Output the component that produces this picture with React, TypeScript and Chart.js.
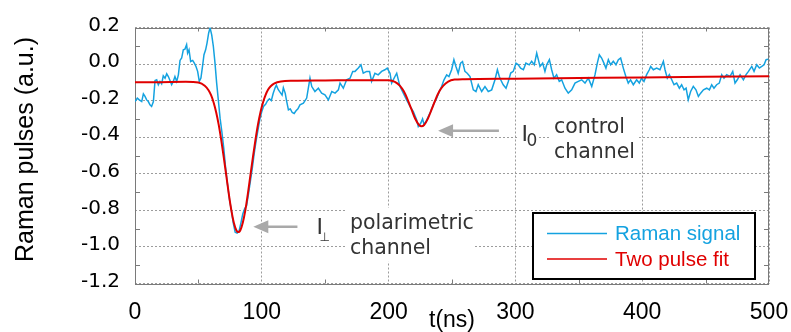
import React, { useEffect, useRef } from "react";
import { Chart, registerables } from "chart.js";

Chart.register(...registerables);

// ---- axes ----
const X_MIN = 0;
const X_MAX = 500;
const X_STEP = 100;
const X_MINOR = 50;
const Y_MIN = -1.2;
const Y_MAX = 0.2;
const Y_STEP = 0.2;
const Y_MINOR = 0.1;

const xTitle = "t(ns)";
const yTitle = "Raman pulses (a.u.)";
const seriesNames = ["Raman signal", "Two pulse fit"];

// ---- Raman signal ----
const signalT = [
  0, 1.8, 3.4, 5.3, 6.6, 7.9, 9.2, 10.5, 11.8, 13.1, 14.5, 15.8, 17.1, 18.4, 19.7, 21, 22.3, 23.7, 25, 26.3,
  27.6, 28.9, 30.2, 31.5, 32.9, 34.2, 35.5, 36.8, 38.1, 39.4, 40.7, 41.5, 42.6, 43.9, 45.5, 46.8, 48.1, 49.4,
  50.7, 52, 53.4, 54.4, 55.7, 56.8, 58.1, 59.2, 60.5, 61.8, 63.1, 64.4, 65.7, 67.1, 68.5, 70, 71.5, 73, 74.5,
  76, 77.5, 79, 80.5, 82, 83.5, 85, 86.5, 88, 89.5, 91, 92.5, 94, 95.5, 97, 98.5, 100, 101.5, 103, 104.5, 106,
  107.5, 109, 110.5, 111.5, 113, 114.5, 116, 117, 118.5, 119.5, 121, 122.5, 124, 125.5, 127, 128.5, 130.1,
  132.8, 135.4, 138, 139.4, 141.9, 144.6, 147.2, 149.8, 152.5, 155.2, 157.8, 160.4, 161.7, 164.3, 166.9,
  169.6, 171.7, 173.5, 176.1, 178.2, 180, 182.7, 185, 186.6, 189.2, 191.8, 194.5, 197.1, 198.9, 201.1, 202.4,
  205, 206.4, 209, 211.6, 214.2, 216.9, 219.5, 222.1, 223.4, 225.3, 226.8, 227.9, 229.5, 231.3, 233.2, 235.2,
  237.9, 240, 241.8, 243.7, 245.8, 247.6, 249.7, 251.5, 253.1, 254.9, 256.8, 258.3, 260.2, 262, 264.2, 266.8,
  268.9, 270.7, 273.4, 276, 278.6, 281.3, 283.9, 285.8, 287.3, 288.4, 290.4, 292.6, 294.4, 296.3, 298.3,
  300.5, 302.3, 304.1, 306.3, 308.3, 310.9, 312.8, 314.9, 316.8, 318.1, 319.4, 321.5, 323.3, 324.7, 326.8,
  328.6, 330.4, 332.5, 334.6, 336.5, 339.1, 341.7, 344.4, 347, 349.6, 352.3, 354.9, 357.5, 360.2, 362.8,
  364.6, 366.2, 368, 369.8, 371.4, 373.3, 375.1, 377.2, 379.3, 381.2, 383, 385.1, 387.1, 389, 390.8, 393,
  395.6, 397.7, 399.5, 401.4, 403.5, 405.6, 406.7, 408.8, 411.4, 414, 416.7, 418, 419.8, 421.4, 423.3, 425.1,
  427.2, 429.3, 431.1, 433, 434.6, 436.3, 438.2, 440.3, 442.4, 444.3, 446.1, 448.3, 450.9, 453, 454.8, 456.6,
  458.7, 460.8, 462.7, 464.5, 466.6, 469.2, 471.4, 473.2, 475, 477.2, 479.8, 481.9, 483.8, 486.4, 488.2,
  490.3, 492.4, 494.3, 496.1, 497.7, 499.5,
];
const signalV = [
  -0.205, -0.186, -0.196, -0.205, -0.163, -0.177, -0.196, -0.205, -0.223, -0.232, -0.205, -0.09, -0.086,
  -0.113, -0.095, -0.108, -0.064, -0.077, -0.053, -0.068, -0.09, -0.113, -0.095, -0.068, -0.095, -0.059, 0.02,
  0.033, 0.078, 0.082, 0.106, 0.06, 0.078, 0.014, 0.02, 0.005, -0.013, -0.04, -0.095, -0.077, -0.004, 0.051,
  0.078, 0.115, 0.17, 0.198, 0.16, 0.096, 0.005, -0.104, -0.196, -0.296, -0.37, -0.46, -0.57, -0.66, -0.74,
  -0.8, -0.87, -0.92, -0.925, -0.915, -0.87, -0.82, -0.79, -0.775, -0.71, -0.64, -0.57, -0.49, -0.42, -0.36,
  -0.3, -0.26, -0.23, -0.22, -0.2, -0.19, -0.2, -0.16, -0.13, -0.115, -0.14, -0.155, -0.17, -0.13, -0.16, -0.2,
  -0.25, -0.245, -0.265, -0.27, -0.255, -0.245, -0.223, -0.214, -0.186, -0.077, -0.123, -0.15, -0.132, -0.159,
  -0.168, -0.196, -0.15, -0.159, -0.141, -0.104, -0.132, -0.086, -0.077, -0.04, -0.04, -0.022, -0.004, -0.05,
  -0.04, -0.04, -0.095, -0.05, -0.059, -0.04, -0.031, -0.022, -0.05, -0.104, -0.068, -0.05, -0.123, -0.159,
  -0.196, -0.232, -0.26, -0.305, -0.342, -0.324, -0.3, -0.33, -0.314, -0.287, -0.26, -0.223, -0.186, -0.15,
  -0.123, -0.086, -0.059, -0.068, -0.031, 0.024, -0.013, -0.05, 0.005, 0.014, -0.04, -0.05, -0.068, -0.141,
  -0.15, -0.113, -0.15, -0.123, -0.15, -0.141, -0.086, -0.031, -0.068, -0.086, -0.113, -0.132, -0.095, -0.049,
  -0.04, 0.005, -0.004, -0.022, -0.031, 0.005, -0.004, 0.015, -0.004, 0.06, 0.024, -0.013, 0.005, -0.04,
  -0.004, 0.024, -0.031, -0.077, -0.058, -0.095, -0.086, -0.132, -0.159, -0.141, -0.104, -0.095, -0.086,
  -0.104, -0.077, -0.122, -0.058, 0.005, 0.051, 0.033, 0.005, -0.022, 0.024, -0.004, 0.015, -0.004, 0.024,
  0.033, -0.022, -0.068, -0.104, -0.086, -0.113, -0.086, -0.104, -0.077, -0.095, -0.058, -0.031, -0.013,
  -0.031, -0.022, -0.031, 0.015, -0.031, -0.077, -0.058, -0.086, -0.113, -0.104, -0.132, -0.113, -0.141,
  -0.132, -0.195, -0.15, -0.122, -0.141, -0.177, -0.159, -0.141, -0.132, -0.141, -0.113, -0.132, -0.113,
  -0.104, -0.058, -0.077, -0.058, -0.068, -0.04, -0.104, -0.086, -0.058, -0.086, -0.058, -0.04, -0.013, -0.04,
  -0.004, -0.022, -0.013, -0.004, 0.024, 0.027,
];

// ---- Two pulse fit ----
const fitT = [
  0, 20, 40, 50, 55, 58, 60, 62, 64, 66, 68, 70, 72, 74, 76, 78, 80, 81.5, 83, 85, 87, 89, 91, 93, 95, 97, 99,
  101, 103, 105, 107, 110, 115, 125, 150, 180, 200, 205, 209, 212, 215, 218, 221, 224, 226, 228, 231, 234, 237,
  240, 243, 247, 252, 260, 300, 400, 500,
];
const fitV = [
  -0.1, -0.099, -0.097, -0.101, -0.118, -0.143, -0.17, -0.21, -0.263, -0.331, -0.415, -0.51, -0.61, -0.711,
  -0.8, -0.869, -0.91, -0.919, -0.91, -0.868, -0.8, -0.71, -0.609, -0.509, -0.414, -0.33, -0.262, -0.209,
  -0.168, -0.139, -0.121, -0.105, -0.095, -0.0915, -0.0898, -0.0878, -0.0885, -0.0973, -0.119, -0.149, -0.194,
  -0.247, -0.299, -0.333, -0.34, -0.333, -0.298, -0.247, -0.194, -0.149, -0.119, -0.0955, -0.085, -0.0824,
  -0.0796, -0.0728, -0.066,
];

// ---- annotations (arrow tip/tail in t, level in a.u.) ----
const annotations = [
  { tip: 93.3, tail: 128.1, level: -0.89, main: "I", sub: "\u22A5", lines: ["polarimetric", "channel"] },
  { tip: 239, tail: 287, level: -0.364, main: "I", sub: "0", lines: ["control", "channel"] },
];

const BLUE = "#14a2e0";
const RED = "#e00000";
const SANS = '"Liberation Sans", Arial, sans-serif';
const WIDE = '"DejaVu Sans", sans-serif';

const framePlugin = {
  id: "frame",
  beforeDatasetsDraw(chart: any) {
    const { ctx, chartArea: ca, scales } = chart;
    ctx.save();
    ctx.strokeStyle = "#7a7a7a";
    ctx.lineWidth = 1;
    ctx.beginPath();
    for (let t = X_MIN + X_MINOR; t < X_MAX; t += X_STEP) {
      const x = Math.round(scales.x.getPixelForValue(t)) + 0.5;
      ctx.moveTo(x, ca.bottom);
      ctx.lineTo(x, ca.bottom - 4);
      ctx.moveTo(x, ca.top);
      ctx.lineTo(x, ca.top + 4);
    }
    for (let v = Y_MIN + Y_MINOR; v < Y_MAX; v += Y_STEP) {
      const y = Math.round(scales.y.getPixelForValue(v)) + 0.5;
      ctx.moveTo(ca.left, y);
      ctx.lineTo(ca.left + 5, y);
      ctx.moveTo(ca.right, y);
      ctx.lineTo(ca.right - 5, y);
    }
    ctx.stroke();
    ctx.strokeRect(Math.round(ca.left) + 0.5, Math.round(ca.top) + 0.5, Math.round(ca.right - ca.left) - 1, Math.round(ca.bottom - ca.top));
    ctx.restore();
  },
};

const overlayPlugin = {
  id: "overlay",
  afterDraw(chart: any) {
    const { ctx, chartArea: ca, scales } = chart;
    ctx.save();
    ctx.fillStyle = "#000";
    ctx.textAlign = "center";
    ctx.textBaseline = "alphabetic";
    ctx.font = `23px ${SANS}`;
    ctx.fillText(xTitle, (ca.left + ca.right) / 2, 327);
    ctx.save();
    ctx.translate(33, (ca.top + ca.bottom) / 2 - 6);
    ctx.rotate(-Math.PI / 2);
    ctx.font = `25px ${SANS}`;
    ctx.fillText(yTitle, 0, 0);
    ctx.restore();

    ctx.textAlign = "left";
    annotations.forEach((a, idx) => {
      const tipX = scales.x.getPixelForValue(a.tip);
      const tailX = scales.x.getPixelForValue(a.tail);
      const y = scales.y.getPixelForValue(a.level);
      ctx.fillStyle = "#a9a9a9";
      ctx.strokeStyle = "#a9a9a9";
      ctx.lineWidth = 2.5;
      ctx.beginPath();
      ctx.moveTo(tipX + 12, y);
      ctx.lineTo(tailX, y);
      ctx.stroke();
      ctx.beginPath();
      ctx.moveTo(tipX, y);
      ctx.lineTo(tipX + 15, y - 6.5);
      ctx.lineTo(tipX + 15, y + 6.5);
      ctx.closePath();
      ctx.fill();

      const iLeft = tailX + (idx === 0 ? 19 : 22.5);
      const iBase = y + (idx === 0 ? 7.5 : 10.5);
      const blockLeft = tailX + (idx === 0 ? 52.5 : 55);
      ctx.font = `20px ${WIDE}`;
      const w = Math.max(...a.lines.map((s) => ctx.measureText(s).width));
      ctx.fillStyle = "#fff";
      ctx.fillRect(iLeft - 3, iBase - 19, 20, 30);
      ctx.fillRect(blockLeft - 4, y - 19, w + 8, 54);
      ctx.fillStyle = "#333";
      ctx.font = `22px ${WIDE}`;
      ctx.fillText(a.main, iLeft, iBase);
      if (idx === 0) {
        ctx.font = `12px ${WIDE}`;
        ctx.fillText(a.sub, iLeft + 3, iBase + 7);
      } else {
        ctx.font = `17px ${WIDE}`;
        ctx.fillText(a.sub, iLeft + 5, iBase + 5);
      }
      ctx.font = `20.5px ${WIDE}`;
      a.lines.forEach((s, k) => ctx.fillText(s, blockLeft, y + 2 + k * 25.5));
    });

    const bl = ca.right - 236;
    const bt = ca.bottom - 70.5;
    ctx.fillStyle = "#fff";
    ctx.fillRect(bl, bt, 222, 66);
    ctx.strokeStyle = "#000";
    ctx.lineWidth = 2;
    ctx.strokeRect(bl, bt, 222, 66);
    ctx.font = `20.5px ${SANS}`;
    chart.data.datasets.forEach((ds: any, k: number) => {
      const ry = bt + 20.5 + k * 25.5;
      ctx.strokeStyle = ds.borderColor;
      ctx.lineWidth = 1.5;
      ctx.beginPath();
      ctx.moveTo(bl + 14, ry);
      ctx.lineTo(bl + 74, ry);
      ctx.stroke();
      ctx.fillStyle = ds.borderColor;
      ctx.fillText(ds.label, bl + 82, ry + 6.5);
    });
    ctx.restore();
  },
};

export default function App() {
  const ref = useRef<HTMLCanvasElement>(null);
  useEffect(() => {
    const canvas = ref.current!;
    const signal = signalT.map((t, i) => ({ x: t, y: signalV[i] }));
    const fit = fitT.map((t, i) => ({ x: t, y: fitV[i] }));
    const zeroPad = (s: any) => {
      s.paddingLeft = 0;
      s.paddingRight = 0;
      s.paddingTop = 0;
      s.paddingBottom = 0;
    };
    const chart = new Chart(canvas, {
      type: "line",
      data: {
        datasets: [
          { label: seriesNames[0], data: signal, borderColor: BLUE, borderWidth: 1.5, pointRadius: 0, tension: 0, order: 2 },
          { label: seriesNames[1], data: fit, borderColor: RED, borderWidth: 2, pointRadius: 0, cubicInterpolationMode: "monotone", order: 1 },
        ],
      },
      options: {
        responsive: false,
        animation: false,
        events: [],
        layout: { padding: { top: 27.5, right: 22, left: 0, bottom: 0 } },
        plugins: { legend: { display: false }, tooltip: { enabled: false } },
        scales: {
          x: {
            type: "linear",
            min: X_MIN,
            max: X_MAX,
            ticks: { stepSize: X_STEP, padding: 15, color: "#000", maxRotation: 0, font: { family: SANS, size: 23 } },
            grid: { color: "#9c9c9c", lineWidth: 1, drawTicks: false },
            border: { display: false, dash: [2, 2] },
            afterFit: (s: any) => {
              s.height = 48.5;
              zeroPad(s);
            },
          },
          y: {
            type: "linear",
            min: Y_MIN,
            max: Y_MAX,
            ticks: {
              stepSize: Y_STEP,
              padding: 15,
              labelOffset: -2,
              color: "#000",
              font: { family: WIDE, size: 20 },
              callback: (v: any) => {
                const s = Number(v).toFixed(1);
                return s === "-0.0" ? "0.0" : s;
              },
            },
            grid: { color: "#9c9c9c", lineWidth: 1, drawTicks: false },
            border: { display: false, dash: [2, 2] },
            afterFit: (s: any) => {
              s.width = 135;
              zeroPad(s);
            },
          },
        },
      },
      plugins: [framePlugin, overlayPlugin],
    } as any);
    return () => chart.destroy();
  }, []);
  return (
    <div style={{ position: "fixed", left: 0, top: 0, width: 791, height: 332, background: "#fff" }}>
      <canvas ref={ref} width={791} height={332} style={{ display: "block", width: 791, height: 332 }} />
    </div>
  );
}
